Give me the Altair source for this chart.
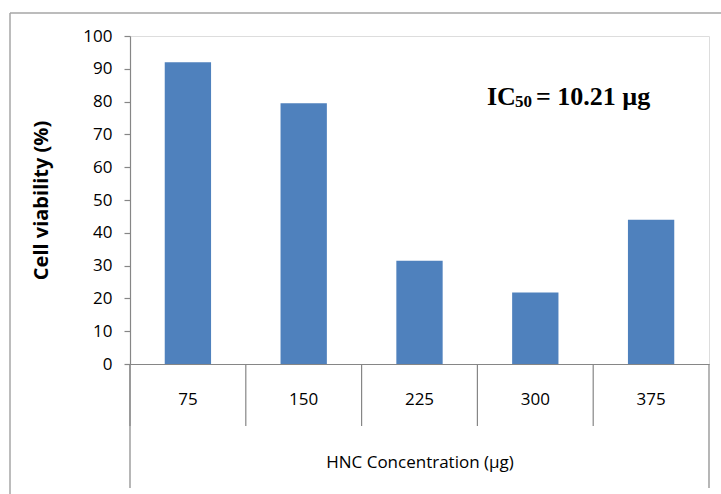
import altair as alt
import pandas as pd

# ---- data ----
categories = ["75", "150", "225", "300", "375"]
viability = [92, 79.5, 31.5, 21.8, 44]
y_ticks = [0, 10, 20, 30, 40, 50, 60, 70, 80, 90, 100]
x_title = "HNC Concentration (µg)"
y_title = "Cell viability (%)"
ann_main = "IC"
ann_sub = "50"
ann_rest = "= 10.21 µg"

df = pd.DataFrame({"conc": categories, "viability": viability})
one = pd.DataFrame({"k": [0]})

W, H = 579, 328
AX = "#868686"
FONT = "Open Sans"

xscale = alt.Scale(domain=categories, paddingInner=0, paddingOuter=0)
x_axis = alt.Axis(title=x_title, ticks=False, tickSize=0, labelAngle=0,
                  labelPadding=35, labelBaseline="middle",
                  labelFont=FONT, labelFontSize=17, labelColor="#000",
                  domainColor=AX, domainWidth=1.2,
                  titleFont=FONT, titleFontSize=17, titleFontWeight="normal",
                  titleColor="#000", titleX=W / 2, titleY=98,
                  titleBaseline="middle", titleAlign="center")

bars = alt.Chart(df).mark_bar(color="#4F81BD", width=alt.RelativeBandSize(0.4)).encode(
    x=alt.X("conc:N", sort=categories, scale=xscale, axis=x_axis),
    y=alt.Y("viability:Q", scale=alt.Scale(domain=[0, 100], nice=False),
            axis=alt.Axis(title=y_title, values=y_ticks, grid=False,
                          tickSize=6, tickColor=AX, tickWidth=1.2,
                          domainColor=AX, domainWidth=1.2,
                          labelPadding=12, labelFont=FONT, labelFontSize=17,
                          labelColor="#000",
                          titleFont=FONT, titleFontSize=20, titleFontWeight="bold",
                          titleColor="#000", titleX=-89, titleY=H / 2,
                          titleAngle=270, titleAlign="center",
                          titleBaseline="middle")),
)

seps = alt.Chart(df).mark_rule(color=AX, strokeWidth=1.2).encode(
    x=alt.X("conc:N", sort=categories, scale=xscale, bandPosition=0, axis=x_axis),
    y=alt.value(H), y2=alt.value(H + 62),
)

left_long = alt.Chart(one).mark_rule(color=AX, strokeWidth=1.2).encode(
    x=alt.value(0), y=alt.value(H), y2=alt.value(H + 124))
right_long = alt.Chart(one).mark_rule(color=AX, strokeWidth=1.2).encode(
    x=alt.value(W), y=alt.value(H), y2=alt.value(H + 124))

border_top = alt.Chart(one).mark_rule(color="#A6A6A6", strokeWidth=1.5).encode(
    x=alt.value(-120), x2=alt.value(600), y=alt.value(-23))
border_left = alt.Chart(one).mark_rule(color="#A6A6A6", strokeWidth=1.5).encode(
    x=alt.value(-120), y=alt.value(-23), y2=alt.value(470))

serif = dict(font="Liberation Serif", fontWeight="bold", align="left",
             baseline="alphabetic", color="#000")
t1 = alt.Chart(one).mark_text(fontSize=26, **serif).encode(
    x=alt.value(357), y=alt.value(69), text=alt.value(ann_main))
t2 = alt.Chart(one).mark_text(fontSize=17, **serif).encode(
    x=alt.value(385), y=alt.value(71), text=alt.value(ann_sub))
t3 = alt.Chart(one).mark_text(fontSize=26, **serif).encode(
    x=alt.value(406), y=alt.value(69), text=alt.value(ann_rest))

chart = alt.layer(
    border_top, border_left, bars, seps, left_long, right_long, t1, t2, t3
).properties(
    width=W, height=H,
    autosize=alt.AutoSizeParams(type="none"),
    padding={"left": 130, "top": 36, "right": 12, "bottom": 130},
).configure_view(stroke=None).configure(background="white")

chart.save("out.html", embed_options={"renderer": "svg", "actions": False})
